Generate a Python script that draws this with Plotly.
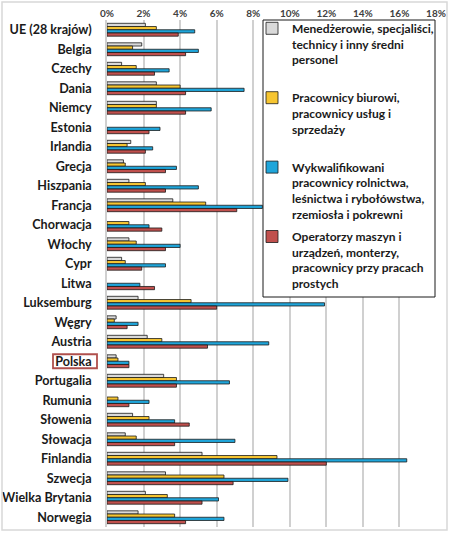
import plotly.graph_objects as go

countries = ["UE (28 krajów)", "Belgia", "Czechy", "Dania", "Niemcy", "Estonia", "Irlandia",
             "Grecja", "Hiszpania", "Francja", "Chorwacja", "Włochy", "Cypr", "Litwa",
             "Luksemburg", "Węgry", "Austria", "Polska", "Portugalia", "Rumunia", "Słowenia",
             "Słowacja", "Finlandia", "Szwecja", "Wielka Brytania", "Norwegia"]

managers = [2.1, 1.9, 0.8, 2.7, 2.7, None, 1.3, 0.9, 1.2, 3.6, None, 1.2, 0.8, None,
            1.7, 0.5, 2.2, 0.5, 3.1, None, 1.4, 1.0, 5.2, 3.2, 2.1, 1.7]
clerks = [2.7, 1.4, 1.6, 4.0, 2.7, None, 1.1, 1.0, 2.1, 5.4, 1.2, 1.6, 1.0, None,
          4.6, 0.4, 3.0, 0.6, 3.8, 0.6, 2.3, 1.6, 9.3, 6.4, 3.3, 3.7]
skilled = [4.8, 5.0, 3.4, 7.5, 5.7, 2.9, 2.5, 3.8, 5.0, 8.5, 2.3, 4.0, 3.2, 1.8,
           11.9, 1.7, 8.85, 1.2, 6.7, 2.3, 3.7, 7.0, 16.4, 9.9, 6.1, 6.4]
operators = [3.9, 4.3, 2.6, 4.3, 4.3, 2.3, 2.1, 3.2, 3.2, 7.1, 3.0, 3.2, 1.9, 2.6,
             6.0, 1.1, 5.5, 1.2, 3.8, 1.2, 4.5, 3.7, 12.0, 6.9, 5.2, 4.3]

series_names = [
    "Menedżerowie, specjaliści,<br>technicy i inny średni<br>personel<br> ",
    "Pracownicy biurowi,<br>pracownicy usług i<br>sprzedaży<br> ",
    "Wykwalifikowani<br>pracownicy rolnictwa,<br>leśnictwa i rybołówstwa,<br>rzemiosła i pokrewni",
    "Operatorzy maszyn i<br>urządzeń, monterzy,<br>pracownicy przy pracach<br>prostych",
]
series_values = [managers, clerks, skilled, operators]
colors = ["#D9D9D9", "#F6C531", "#1FA5DA", "#C0504D"]

tick_vals = [0, 2, 4, 6, 8, 10, 12, 14, 16, 18]
tick_text = ["0%", "2%", "4%", "6%", "8%", "10%", "12%", "14%", "16%", "18%"]

FONT = "Lato"
W, H = 450, 533
ML, MR, MT, MB = 107, 14, 20, 6
PW, PH = W - ML - MR, H - MT - MB


def px_x(p):
    return (p - ML) / PW


def px_y(p):
    return 1 - (p - MT) / PH


fig = go.Figure()
for i, (name, vals, col) in enumerate(zip(series_names, series_values, colors)):
    fig.add_trace(go.Bar(
        y=countries, x=vals,
        name="<b>" + name.replace("<br>", "</b><br><b>") + "</b>",
        orientation="h",
        marker=dict(color=col, line=dict(color="#1a1a1a", width=0.8)),
        legendgroup=f"g{i}",
    ))

pol = countries.index("Polska")
fig.add_shape(type="rect", xref="paper", yref="y",
              x0=px_x(53), x1=px_x(97),
              y0=pol - 0.36, y1=pol + 0.36,
              line=dict(color="#B0504D", width=1.8), layer="above")

# outer chart-area frame
fig.add_shape(type="rect", xref="paper", yref="paper", x0=px_x(2), x1=px_x(447),
              y0=px_y(530), y1=px_y(2), line=dict(color="#D8D8D8", width=1.5))

# legend frame (white box above the bars)
fig.add_shape(type="rect", xref="paper", yref="paper", x0=px_x(263), x1=px_x(435),
              y0=px_y(297), y1=px_y(20), fillcolor="white",
              line=dict(color="#1a1a1a", width=1), layer="above")

fig.update_layout(
    width=W, height=H,
    margin=dict(l=ML, r=MR, t=MT, b=MB, autoexpand=False),
    barmode="group", bargap=0.34, bargroupgap=0,
    paper_bgcolor="white", plot_bgcolor="white",
    font=dict(family=FONT, color="#1a1a1a"),
    xaxis=dict(side="top", range=[0, 18], tickvals=tick_vals,
               ticktext=[f"<b>{t}</b>" for t in tick_text],
               showgrid=True, gridcolor="#D0D0D0", gridwidth=1.5, zeroline=False,
               showline=False, ticks="", automargin=False,
               tickfont=dict(size=10, color="#404040", family=FONT),
               fixedrange=True),
    yaxis=dict(autorange="reversed", showgrid=False, ticks="", showline=True,
               linecolor="#D0D0D0", linewidth=1.5, automargin=False,
               tickvals=countries, ticktext=[f"<b>{c}</b>" for c in countries],
               tickfont=dict(size=12.6, family=FONT, color="#1a1a1a"),
               ticklabelstandoff=11),
    legend=dict(x=px_x(252), y=px_y(14), xanchor="left", yanchor="top",
                bgcolor="rgba(0,0,0,0)", borderwidth=0, maxheight=500,
                font=dict(size=12, family=FONT, color="#1a1a1a"),
                tracegroupgap=4, valign="top", itemwidth=30),
    showlegend=True,
)

fig.write_html("out.html", config={"displayModeBar": False},
               post_script="document.body.style.margin='0';")
